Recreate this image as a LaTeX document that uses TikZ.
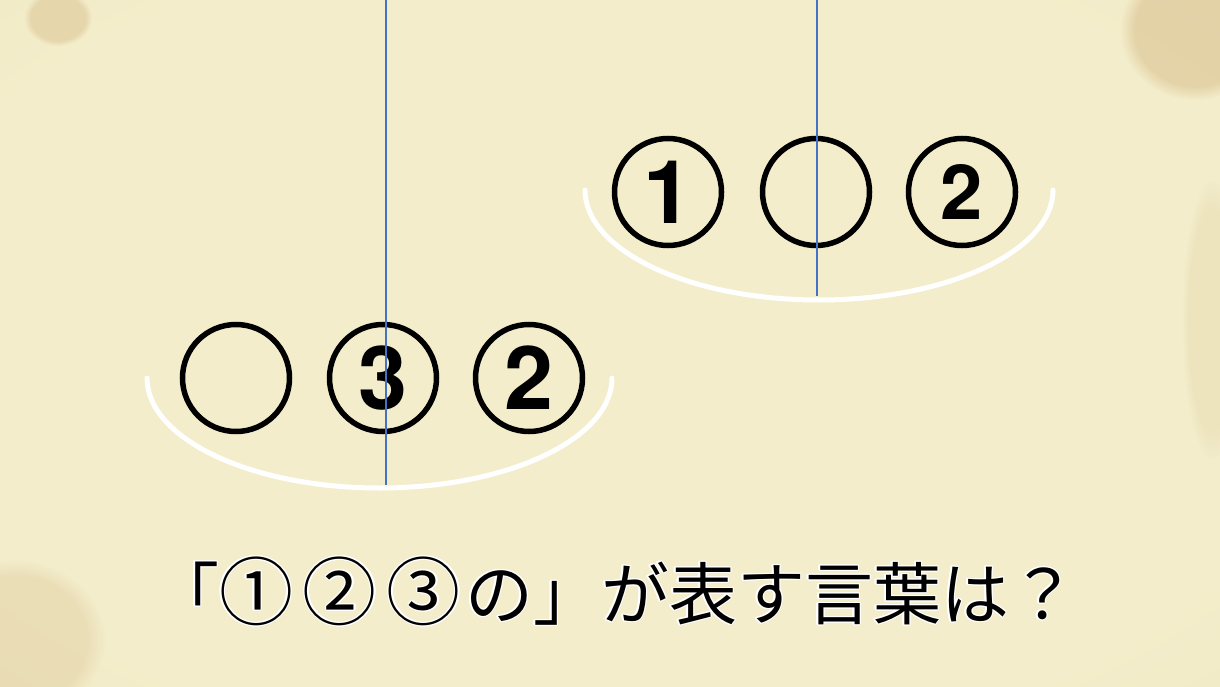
\documentclass[tikz,border=0pt]{standalone}
\usepackage{fontspec}
\usepackage{contour}
\setmainfont{TeX Gyre Heros}
\newfontfamily\cjk{Noto Sans CJK JP}
\usetikzlibrary{fadings}
\definecolor{parch}{HTML}{F3EDCB}
\definecolor{parchmid}{HTML}{F0E6BE}
\definecolor{parchdark}{HTML}{E6D39E}
\definecolor{stain}{HTML}{C9A468}
\definecolor{cordblue}{HTML}{4472C4}
\pgfdeclareradialshading{parchment}{\pgfpoint{0bp}{0bp}}{%
  color(0bp)=(parch); color(30bp)=(parch); color(50bp)=(parchmid); color(72bp)=(parchdark); color(100bp)=(parchdark)}
\contourlength{1.3pt}
\begin{document}
\begin{tikzpicture}[x=1pt,y=-1pt,
  ball/.style={circle, draw=black, line width=5.5pt, minimum size=107pt, inner sep=0pt,
    font=\fontsize{88}{88}\selectfont\bfseries},
  smallnum/.style={font=\fontsize{76}{76}\selectfont\bfseries},
  pan/.style={draw=white, line width=5pt, line cap=round},
  cord/.style={draw=cordblue, line width=1.3pt},
  stainblob/.style={fill=stain, path fading=circle with fuzzy edge 20 percent},
  qtext/.style={font=\cjk\fontsize{68}{68}\selectfont}]

\useasboundingbox (0,0) rectangle (1220,687);
\shade[shading=parchment] (0,0) rectangle (1220,687);

% stains
\fill[stainblob, opacity=0.3] (58,18) ellipse[x radius=34, y radius=28];
\fill[stainblob, opacity=0.35] (1195,30) ellipse[x radius=75, y radius=70];
\fill[stainblob, opacity=0.12] (1212,320) ellipse[x radius=30, y radius=140];
\fill[stainblob, opacity=0.2] (15,640) ellipse[x radius=90, y radius=80];

% right scale
\coordinate (rtop) at (817,0);
\coordinate (rbot) at (817,296);
\node[ball] (r1) at (668,192) {1};
\node[ball] (r0) at (816,192) {};
\node[ball, smallnum] (r2) at (962,192) {2};
\draw[pan] (585,190) arc[start angle=180, end angle=0, x radius=234, y radius=110];
\draw[cord] (rtop) -- (rbot);

% left scale
\coordinate (ltop) at (386,0);
\coordinate (lbot) at (386,485);
\node[ball] (l0) at (236,378) {};
\node[ball] (l3) at (383,378) {3};
\node[ball] (l2) at (529,378) {2};
\draw[pan] (147,378) arc[start angle=180, end angle=0, x radius=232.5, y radius=110];
\draw[cord] (ltop) -- (lbot);

% question
\node[qtext, text=black] (q) at (614,592) {\contour{white}{「{\fontsize{74}{74}\selectfont ①\hspace{10pt}②\hspace{10pt}③}\hspace{4pt}の」が表す言葉は？}};
\end{tikzpicture}
\end{document}
